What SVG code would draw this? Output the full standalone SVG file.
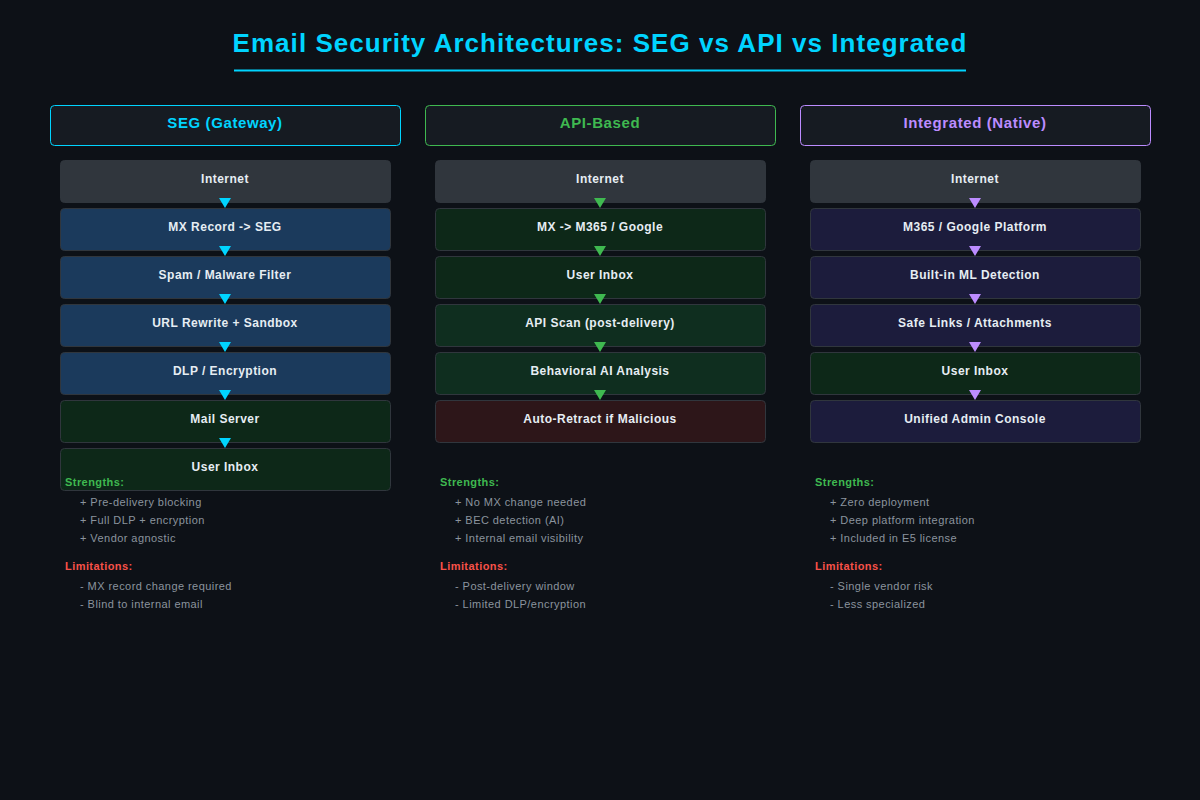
<svg xmlns="http://www.w3.org/2000/svg" width="1200" height="800" viewBox="0 0 1200 800">
<defs>
<style>
text{font-family:"Liberation Sans",Arial,sans-serif;letter-spacing:0.04em}
.title{font-size:26px;font-weight:bold;fill:#00d4ff;text-anchor:middle}
.hdr{fill:#161b22;stroke-width:1}
.htxt{font-size:15px;font-weight:bold;text-anchor:middle}
.box{stroke:#30363d;stroke-width:1}
.btxt{font-size:12px;font-weight:bold;fill:#e6edf3;text-anchor:middle}
.inet{fill:#30363d}
.blue{fill:#1b3a5c}
.dg{fill:#0d2818}
.mg{fill:#0f2e1f}
.red{fill:#2d1619}
.pur{fill:#1c1c3c}
.sl{font-size:11px;font-weight:bold;fill:#3fb950}
.ll{font-size:11px;font-weight:bold;fill:#f85149}
.it{font-size:11px;fill:#8b949e}
</style>
</defs>
<rect width="1200" height="800" fill="#0d1117"/>
<text class="title" x="600" y="52">Email Security Architectures: SEG vs API vs Integrated</text>
<line x1="234" y1="70.5" x2="966" y2="70.5" stroke="#00d4ff" stroke-width="2"/>

<g id="seg-header"><rect class="hdr" x="50.5" y="105.5" width="350" height="40" rx="4" stroke="#00d4ff"/><text class="htxt" x="225" y="128" fill="#00d4ff">SEG (Gateway)</text></g>
<g id="api-header"><rect class="hdr" x="425.5" y="105.5" width="350" height="40" rx="4" stroke="#3fb950"/><text class="htxt" x="600" y="128" fill="#3fb950">API-Based</text></g>
<g id="int-header"><rect class="hdr" x="800.5" y="105.5" width="350" height="40" rx="4" stroke="#bc8cff"/><text class="htxt" x="975" y="128" fill="#bc8cff">Integrated (Native)</text></g>

<g id="seg-1"><rect class="box inet" x="60.5" y="160.5" width="330" height="42" rx="4"/><text class="btxt" x="225" y="183">Internet</text></g>
<g id="seg-2"><rect class="box blue" x="60.5" y="208.5" width="330" height="42" rx="4"/><text class="btxt" x="225" y="231">MX Record -&gt; SEG</text></g>
<g id="seg-3"><rect class="box blue" x="60.5" y="256.5" width="330" height="42" rx="4"/><text class="btxt" x="225" y="279">Spam / Malware Filter</text></g>
<g id="seg-4"><rect class="box blue" x="60.5" y="304.5" width="330" height="42" rx="4"/><text class="btxt" x="225" y="327">URL Rewrite + Sandbox</text></g>
<g id="seg-5"><rect class="box blue" x="60.5" y="352.5" width="330" height="42" rx="4"/><text class="btxt" x="225" y="375">DLP / Encryption</text></g>
<g id="seg-6"><rect class="box dg" x="60.5" y="400.5" width="330" height="42" rx="4"/><text class="btxt" x="225" y="423">Mail Server</text></g>
<g id="seg-7"><rect class="box dg" x="60.5" y="448.5" width="330" height="42" rx="4"/><text class="btxt" x="225" y="471">User Inbox</text></g>

<g id="api-1"><rect class="box inet" x="435.5" y="160.5" width="330" height="42" rx="4"/><text class="btxt" x="600" y="183">Internet</text></g>
<g id="api-2"><rect class="box dg" x="435.5" y="208.5" width="330" height="42" rx="4"/><text class="btxt" x="600" y="231">MX -&gt; M365 / Google</text></g>
<g id="api-3"><rect class="box dg" x="435.5" y="256.5" width="330" height="42" rx="4"/><text class="btxt" x="600" y="279">User Inbox</text></g>
<g id="api-4"><rect class="box mg" x="435.5" y="304.5" width="330" height="42" rx="4"/><text class="btxt" x="600" y="327">API Scan (post-delivery)</text></g>
<g id="api-5"><rect class="box mg" x="435.5" y="352.5" width="330" height="42" rx="4"/><text class="btxt" x="600" y="375">Behavioral AI Analysis</text></g>
<g id="api-6"><rect class="box red" x="435.5" y="400.5" width="330" height="42" rx="4"/><text class="btxt" x="600" y="423">Auto-Retract if Malicious</text></g>

<g id="int-1"><rect class="box inet" x="810.5" y="160.5" width="330" height="42" rx="4"/><text class="btxt" x="975" y="183">Internet</text></g>
<g id="int-2"><rect class="box pur" x="810.5" y="208.5" width="330" height="42" rx="4"/><text class="btxt" x="975" y="231">M365 / Google Platform</text></g>
<g id="int-3"><rect class="box pur" x="810.5" y="256.5" width="330" height="42" rx="4"/><text class="btxt" x="975" y="279">Built-in ML Detection</text></g>
<g id="int-4"><rect class="box pur" x="810.5" y="304.5" width="330" height="42" rx="4"/><text class="btxt" x="975" y="327">Safe Links / Attachments</text></g>
<g id="int-5"><rect class="box dg" x="810.5" y="352.5" width="330" height="42" rx="4"/><text class="btxt" x="975" y="375">User Inbox</text></g>
<g id="int-6"><rect class="box pur" x="810.5" y="400.5" width="330" height="42" rx="4"/><text class="btxt" x="975" y="423">Unified Admin Console</text></g>

<g id="connectors">
<g fill="#00d4ff">
<polygon points="219,198 231,198 225,208"/>
<polygon points="219,246 231,246 225,256"/>
<polygon points="219,294 231,294 225,304"/>
<polygon points="219,342 231,342 225,352"/>
<polygon points="219,390 231,390 225,400"/>
<polygon points="219,438 231,438 225,448"/>
</g>
<g fill="#3fb950">
<polygon points="594,198 606,198 600,208"/>
<polygon points="594,246 606,246 600,256"/>
<polygon points="594,294 606,294 600,304"/>
<polygon points="594,342 606,342 600,352"/>
<polygon points="594,390 606,390 600,400"/>
</g>
<g fill="#bc8cff">
<polygon points="969,198 981,198 975,208"/>
<polygon points="969,246 981,246 975,256"/>
<polygon points="969,294 981,294 975,304"/>
<polygon points="969,342 981,342 975,352"/>
<polygon points="969,390 981,390 975,400"/>
</g>
</g>

<g id="seg-notes">
<text class="sl" x="65" y="486">Strengths:</text>
<text class="it" x="80" y="506">+ Pre-delivery blocking</text>
<text class="it" x="80" y="524">+ Full DLP + encryption</text>
<text class="it" x="80" y="542">+ Vendor agnostic</text>
<text class="ll" x="65" y="570">Limitations:</text>
<text class="it" x="80" y="590">- MX record change required</text>
<text class="it" x="80" y="608">- Blind to internal email</text>
</g>
<g id="api-notes">
<text class="sl" x="440" y="486">Strengths:</text>
<text class="it" x="455" y="506">+ No MX change needed</text>
<text class="it" x="455" y="524">+ BEC detection (AI)</text>
<text class="it" x="455" y="542">+ Internal email visibility</text>
<text class="ll" x="440" y="570">Limitations:</text>
<text class="it" x="455" y="590">- Post-delivery window</text>
<text class="it" x="455" y="608">- Limited DLP/encryption</text>
</g>
<g id="int-notes">
<text class="sl" x="815" y="486">Strengths:</text>
<text class="it" x="830" y="506">+ Zero deployment</text>
<text class="it" x="830" y="524">+ Deep platform integration</text>
<text class="it" x="830" y="542">+ Included in E5 license</text>
<text class="ll" x="815" y="570">Limitations:</text>
<text class="it" x="830" y="590">- Single vendor risk</text>
<text class="it" x="830" y="608">- Less specialized</text>
</g>
</svg>
